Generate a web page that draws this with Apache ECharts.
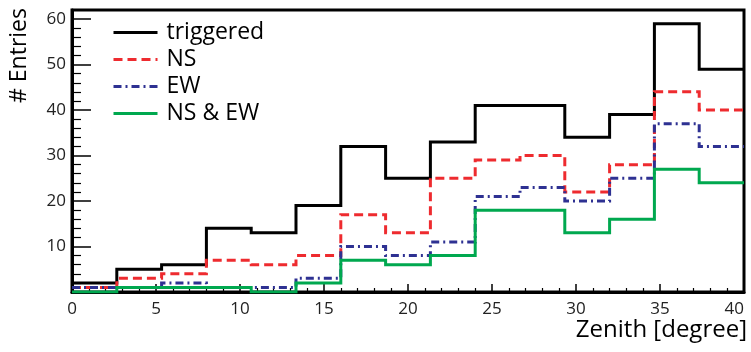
<!DOCTYPE html>
<html>
<head>
<meta charset="utf-8">
<script src="https://cdn.jsdelivr.net/npm/echarts@6/dist/echarts.min.js"></script>
<style>
  html, body { margin: 0; padding: 0; background: #fff; }
  #chart { width: 751px; height: 352px; }
</style>
</head>
<body>
<div id="chart"></div>
<script>
// Bin edges of the zenith histogram (15 bins over 0–40 degrees)
const binEdges = [0, 2.667, 5.333, 8, 10.667, 13.333, 16, 18.667, 21.333, 24, 26.667, 29.333, 32, 34.667, 37.333, 40];

// Entries per bin
const triggered = [2, 5, 6, 14, 13, 19, 32, 25, 33, 41, 41, 34, 39, 59, 49];
const nsCounts  = [1, 3, 4, 7, 6, 8, 17, 13, 25, 29, 30, 22, 28, 44, 40];
const ewCounts  = [1, 1, 2, 1, 1, 3, 10, 8, 11, 21, 23, 20, 25, 37, 32];
const bothCounts = [0, 1, 1, 1, 0, 2, 7, 6, 8, 18, 18, 13, 16, 27, 24];

const seriesNames = ['triggered', 'NS', 'EW', 'NS & EW'];

const FONT = '"Open Sans", "DejaVu Sans", sans-serif';

// Step outline: each bin's value starts at its low edge; the last value closes at the upper edge
function histPoints(values) {
  return binEdges.map((edge, i) => [edge, values[Math.min(i, values.length - 1)]]);
}

function stepSeries(name, values, color, dash) {
  return {
    name: name,
    type: 'line',
    step: 'end',
    symbol: 'none',
    showSymbol: false,
    data: histPoints(values),
    lineStyle: { color: color, width: 3, type: dash, cap: 'butt', join: 'miter' },
    itemStyle: { color: color }
  };
}

const chart = echarts.init(document.getElementById('chart'));
chart.setOption({
  animation: false,
  backgroundColor: '#fff',
  grid: {
    left: 72, right: 7, top: 10, bottom: 60,
    show: true, borderColor: '#000', borderWidth: 3, backgroundColor: 'transparent'
  },
  legend: {
    orient: 'vertical',
    left: 112, top: 21,
    padding: 0,
    itemWidth: 44,
    itemHeight: 14,
    itemGap: 4,
    itemStyle: { opacity: 0 },
    lineStyle: { width: 3 },
    textStyle: { fontSize: 23, fontFamily: FONT, color: '#000', padding: [0, 0, 0, 4], lineHeight: 23 },
    data: seriesNames
  },
  xAxis: {
    type: 'value',
    min: 0, max: 40, interval: 5,
    axisLine: { show: true, lineStyle: { color: '#000', width: 3 } },
    axisTick: { show: true, inside: true, length: 8, lineStyle: { color: '#000', width: 1.5 } },
    minorTick: { show: true, splitNumber: 5, length: 4, lineStyle: { color: '#000', width: 1.2 } },
    splitLine: { show: false },
    axisLabel: { fontSize: 17, fontFamily: FONT, color: '#222', margin: 9, alignMaxLabel: 'right' }
  },
  yAxis: {
    type: 'value',
    min: 0, max: 62, interval: 10,
    axisLine: { show: true, lineStyle: { color: '#000', width: 3 } },
    axisTick: { show: true, inside: true, length: 19, lineStyle: { color: '#000', width: 1.5 } },
    minorTick: { show: true, splitNumber: 5, length: 9, lineStyle: { color: '#000', width: 1.2 } },
    splitLine: { show: false },
    axisLabel: { fontSize: 17, fontFamily: FONT, color: '#222', margin: 6, showMaxLabel: false,
      formatter: v => (v % 10 === 0 && v > 0 ? String(v) : '') }
  },
  graphic: [
    {
      type: 'text',
      right: 4, top: 318,
      style: { text: 'Zenith [degree]', font: '24px ' + FONT, fill: '#000' }
    },
    {
      type: 'text',
      x: 8, y: 8,
      rotation: Math.PI / 2,
      style: { text: '# Entries', font: '23px ' + FONT, fill: '#000', align: 'right', verticalAlign: 'top' }
    }
  ],
  series: [
    stepSeries(seriesNames[0], triggered, '#000000', 'solid'),
    stepSeries(seriesNames[1], nsCounts, '#ee2b2f', [9, 5]),
    stepSeries(seriesNames[2], ewCounts, '#2e3192', [8, 4, 2, 4]),
    stepSeries(seriesNames[3], bothCounts, '#00a84f', 'solid')
  ]
});
</script>
</body>
</html>
